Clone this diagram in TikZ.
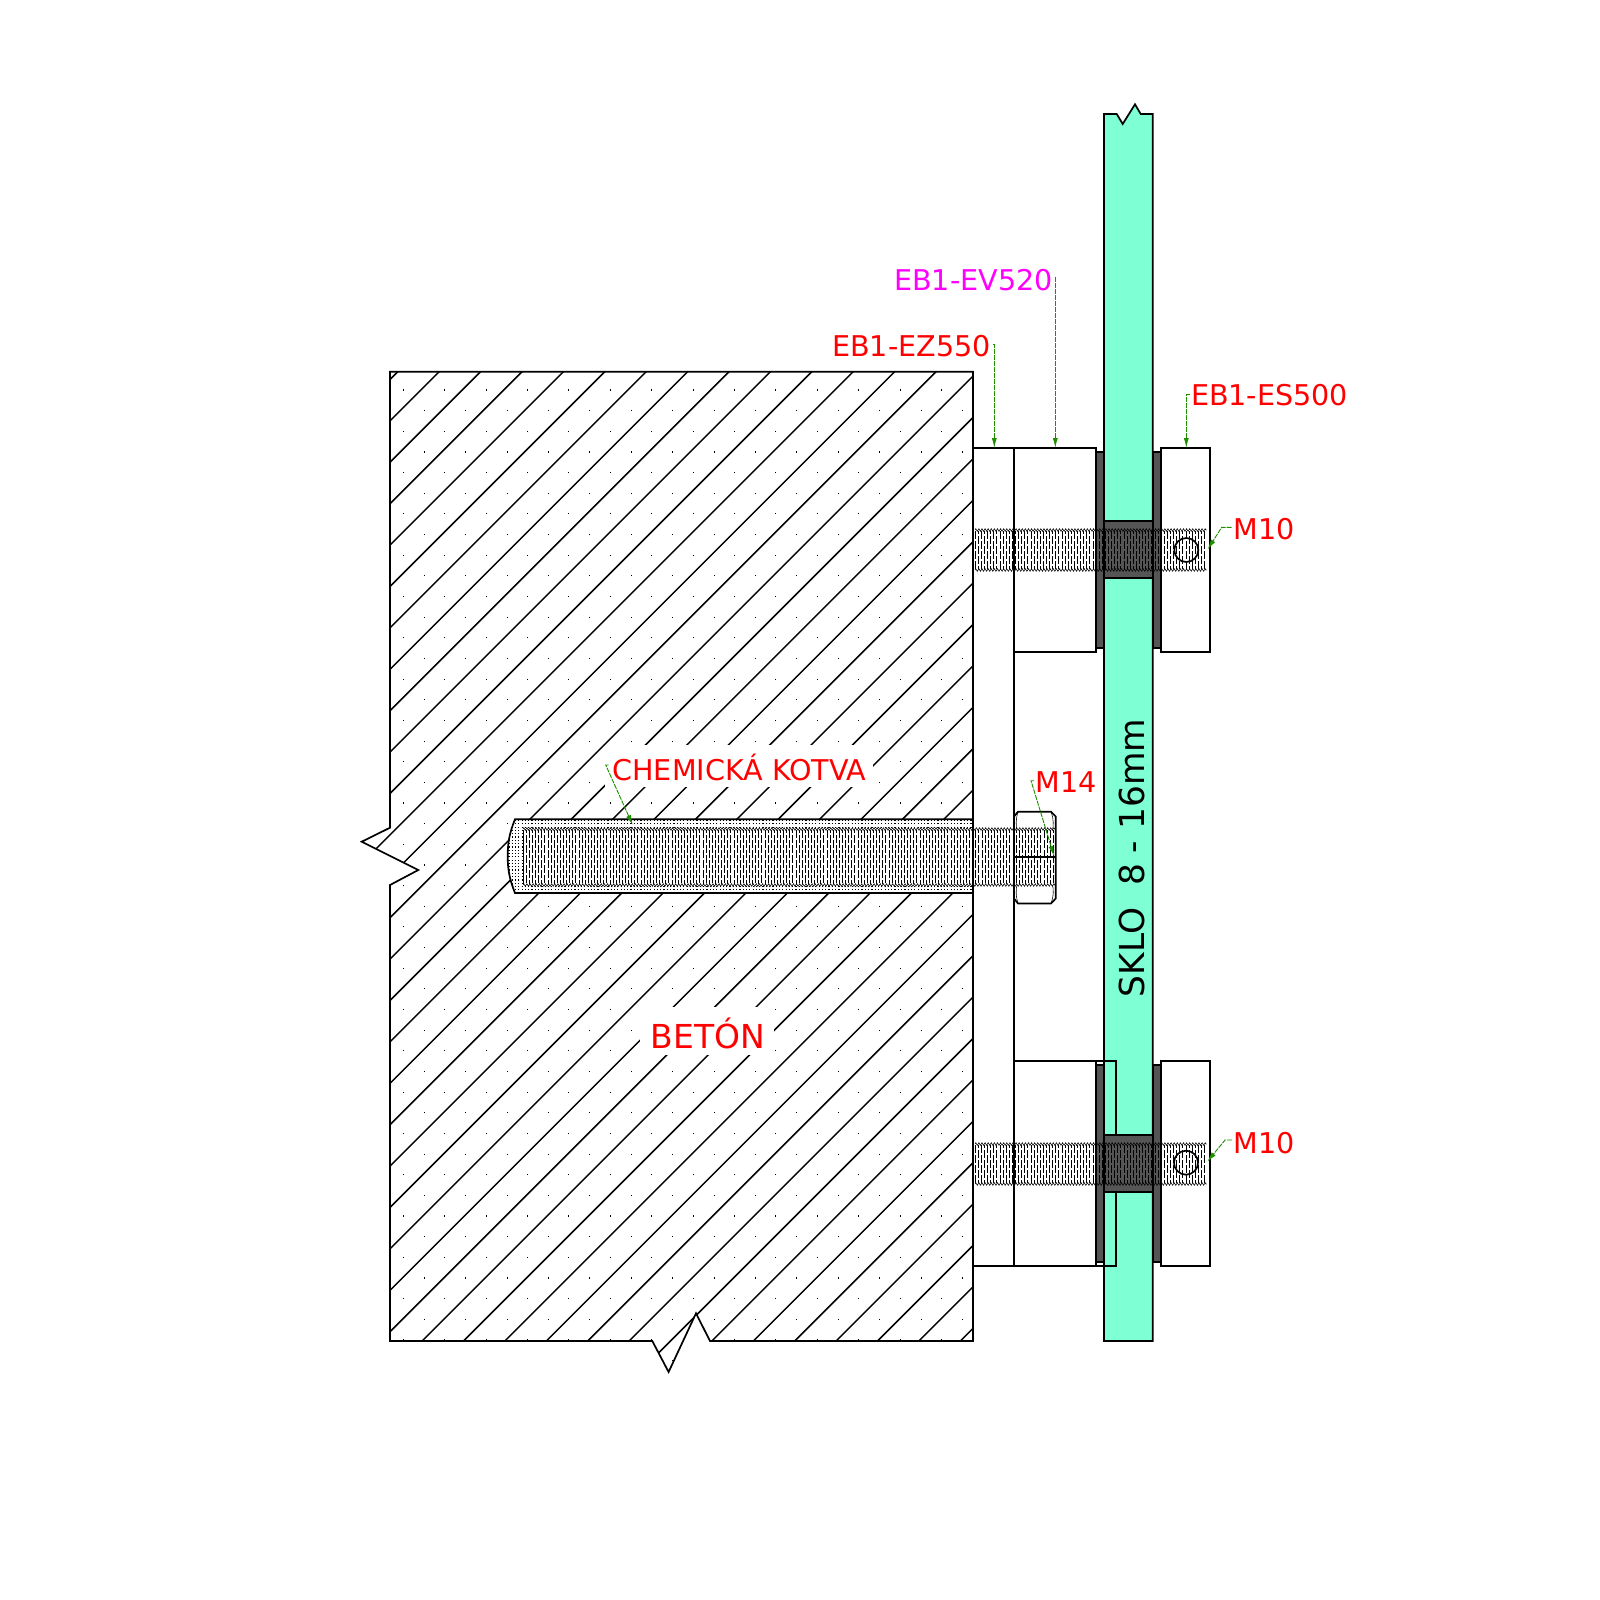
\documentclass[tikz,border=0pt]{standalone}
\usepackage{fontspec}
\setmainfont{DejaVu Sans}
\usetikzlibrary{arrows.meta,decorations.pathmorphing}
\definecolor{glasscol}{HTML}{7FFFD4}
\definecolor{padcol}{HTML}{555555}
\definecolor{leadcol}{HTML}{1F8F00}
\definecolor{magcol}{HTML}{FF00FF}
\newcommand{\threadbar}[4]{%
  \pgfmathsetmacro{\tnext}{#1+3.1}%
  \foreach \tx [count=\ti] in {#1,\tnext,...,#2}{%
    \pgfmathsetmacro{\tph}{isodd(\ti)?0:5}%
    \draw[threadln,dash pattern=on 8pt off 2pt,dash phase=\tph pt] (\tx,#3+1) -- (\tx,#4-1);
  }%
  \draw[threadln,decorate,decoration={zigzag,segment length=3.1pt,amplitude=1.3pt}] (#1,#3) -- (#2,#3);
  \draw[threadln,decorate,decoration={zigzag,segment length=3.1pt,amplitude=1.3pt}] (#1,#4) -- (#2,#4);
}
\newcommand{\wallshape}{(390,371.7) -- (973,371.7) -- (973,1341) -- (710,1341) -- (696,1313.3) -- (668.6,1372) -- (652.3,1341) -- (390,1341) -- (390,885) -- (418.3,870) -- (361.7,841.7) -- (390,827.7) -- cycle}
\newcommand{\anchorshape}{(515,819.3) -- (973,819.3) -- (973,893) -- (515,893) .. controls (509,878) and (507.7,868) .. (507.7,856) .. controls (507.7,844) and (509,834) .. (515,819.3) -- cycle}
\tikzset{
  ln/.style={draw=black,line width=1.7pt},
  threadln/.style={draw=black,line width=0.55pt},
  hatchln/.style={draw=black,line width=1.5pt},
  lead/.style={draw=leadcol,line width=0.9pt,dash pattern=on 5pt off 1pt},
  leadtip/.style={-{Latex[length=10pt,width=5pt,color=leadcol]}},
  lab/.style={font=\fontsize{28.6pt}{30pt}\selectfont,text=red,inner sep=0pt},
  padbox/.style={fill=padcol,draw=black,line width=1.7pt},
  glassbox/.style={fill=glasscol,draw=black,line width=1.7pt},
  blockbox/.style={fill=white,draw=black,line width=1.7pt}
}
\begin{document}
\begin{tikzpicture}[x=1pt,y=-1pt]
\useasboundingbox (0,0) rectangle (1600,1600);
\fill[white] (0,0) rectangle (1600,1600);
% concrete
\begin{scope}
  \clip \wallshape;
  \foreach \c in {0,...,38}{
    \pgfmathsetmacro{\cc}{769.5+41.4*\c}
    \draw[hatchln] (\cc-100,100) -- (\cc-1400,1400);
  }
  \foreach \r in {0,...,47}{
    \pgfmathsetmacro{\ry}{390+20.65*\r}
    \pgfmathsetmacro{\rx}{isodd(\r)?424.3:403.3}
    \foreach \k in {-1,0,...,14}{
      \fill[black] (\rx+41.4*\k-0.55,\ry-0.55) rectangle ++(1.1,1.1);
    }
  }
\end{scope}
\fill[white] (605,745) rectangle (873,787);
\fill[white] (640,1007) rectangle (774,1055);
\draw[ln] \wallshape;
% anchor
\fill[white] \anchorshape;
\begin{scope}
  \clip \anchorshape;
  \foreach \s in {0,...,22}{
    \draw[black,line width=1.2pt,dash pattern=on 1.2pt off 2.1pt] (505,820.5+3.3*\s) -- (973,820.5+3.3*\s);
  }
\end{scope}
\draw[ln] \anchorshape;
\fill[white] (523,829.3) rectangle (973,885);
\draw[threadln,line width=1pt] (523,835) -- (523,880);
\threadbar{523}{1055}{829}{885}
% strips
\draw[ln] (973,448) -- (1014,448);
\draw[ln] (1014,448) -- (1014,1266);
\draw[ln] (973,371.7) -- (973,1341);
\draw[ln] (973,1266) -- (1014,1266);
% nut
\draw[ln] (1018,811.7) -- (1051,811.7) -- (1055.7,816.5) -- (1055.7,898.5) -- (1051,903.5) -- (1018,903.5) -- (1014,898.5) -- (1014,816.5) -- cycle;
\draw[ln] (1014,856.7) -- (1055.7,856.7);
\draw[threadln] (1018,811.7) .. controls (1015.5,820) and (1016,826) .. (1017,830);
\draw[threadln] (1051,811.7) .. controls (1054,820) and (1053.5,826) .. (1052.5,830);
\draw[threadln] (1018,903.5) .. controls (1015.5,895) and (1016,889) .. (1017,885);
\draw[threadln] (1051,903.5) .. controls (1054,895) and (1053.5,889) .. (1052.5,885);
% glass
\draw[glassbox] (1104,114) -- (1116.7,114) -- (1122.7,124) -- (1135,104.3) -- (1140.7,114) -- (1152.7,114) -- (1152.7,1341) -- (1104,1341) -- cycle;
% upper connection
\draw[blockbox] (1014,448) rectangle (1096.3,651.7);
\draw[blockbox] (1161,448) rectangle (1210,651.7);
\draw[padbox] (1096.3,451.7) rectangle (1104,648);
\draw[padbox] (1152.7,451.7) rectangle (1161,648);
\draw[padbox] (1104,520.7) rectangle (1152.7,578);
\threadbar{975}{1206.7}{530}{570}
\draw[ln] (1186.3,550) circle (12);
% lower connection
\draw[blockbox] (1014,1060.7) rectangle (1096.3,1266);
\draw[blockbox] (1161,1060.7) rectangle (1210,1266);
\draw[padbox] (1096.3,1065) rectangle (1104,1261.7);
\draw[padbox] (1152.7,1065) rectangle (1161,1261.7);
\draw[padbox] (1104,1135) rectangle (1152.7,1192);
\draw[ln] (1096.3,1060.7) -- (1116,1060.7) -- (1116,1135);
\draw[ln] (1116,1192) -- (1116,1266) -- (1096.3,1266);
\threadbar{975}{1206.7}{1144}{1184}
\draw[ln] (1186,1162.7) circle (12);
% labels
\node[lab,text=magcol] (ev) at (973.5,280) {EB1-EV520};
\node[lab] (ez) at (911.5,346.5) {EB1-EZ550};
\node[lab] (es) at (1269.5,395.5) {EB1-ES500};
\node[lab] (m1) at (1264,529.5) {M10};
\node[lab] (m2) at (1264,1143) {M10};
\node[lab] (m3) at (1066,782) {M14};
\node[lab] (ck) at (739.5,767) {CHEMICKÁ KOTVA};
\node[lab,font=\fontsize{33pt}{35pt}\selectfont] (bet) at (708,1033) {BETÓN};
\node[inner sep=0pt,rotate=90,font=\fontsize{34.4pt}{36pt}\selectfont] (sk) at (1132,858) {SKLO\ \ 8 - 16mm};
% leader targets
\coordinate (tev) at (1055.3,448);
\coordinate (tez) at (994.3,448);
\coordinate (tes) at (1186.3,448);
\coordinate (tm1) at (1207.7,549.3);
\coordinate (tm2) at (1207.3,1161.7);
\coordinate (tm3) at (1054,856);
\coordinate (tck) at (632.7,825);
\coordinate (kes) at (1186.3,394.6);
\coordinate (km1) at (1221.7,527.3);
\coordinate (km2) at (1225,1140);
\coordinate (km3) at (1031,780.7);
\coordinate (kck) at (605.7,765);
\draw[lead,leadtip] (ev.east) ++(2,-3) -| (tev);
\draw[lead,leadtip] (ez.east) ++(2,-2) -| (tez);
\draw[lead,leadtip] (kes) ++(4,0) -| (tes);
\draw[lead,leadtip] (km1) ++(10,0) -- (km1) -- (tm1);
\draw[lead,leadtip] (km2) ++(7,0) -- (km2) -- (tm2);
\draw[lead,leadtip] (km3) ++(3,0) -- (km3) -- (tm3);
\draw[lead,leadtip] (kck) ++(3,0) -- (kck) -- (tck);
\end{tikzpicture}
\end{document}
